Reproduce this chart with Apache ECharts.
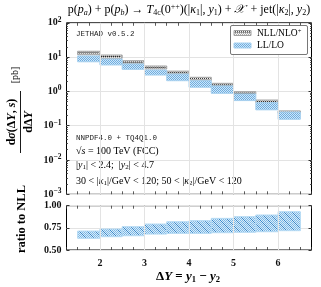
<!DOCTYPE html>
<html><head><meta charset="utf-8">
<script src="https://cdn.jsdelivr.net/npm/echarts@6/dist/echarts.min.js"></script>
<style>html,body{margin:0;padding:0;background:#fff}#c{width:321px;height:287px}</style>
</head><body><div id="c"></div>
<script>
// ---- data ----
const binLo = [1.5, 2.0, 2.5, 3.0, 3.5, 4.0, 4.5, 5.0, 5.5, 6.0];
const binHi = [2.0, 2.5, 3.0, 3.5, 4.0, 4.5, 5.0, 5.5, 6.0, 6.5];
const nllLo = [11.7, 9.2, 6.3, 4.5, 3.2, 2.05, 1.44, 0.84, 0.47, 0.23];
const nllHi = [14.8, 11.5, 7.85, 5.5, 3.9, 2.58, 1.72, 0.98, 0.56, 0.27];
const llLo  = [7.3, 5.9, 4.4, 3.0, 2.05, 1.32, 0.88, 0.54, 0.29, 0.154];
const llHi  = [10.8, 8.8, 6.3, 4.2, 3.2, 2.05, 1.44, 0.84, 0.47, 0.25];
const ratioLo = [0.632, 0.650, 0.661, 0.680, 0.688, 0.688, 0.695, 0.700, 0.706, 0.718];
const ratioHi = [0.714, 0.737, 0.763, 0.793, 0.819, 0.831, 0.857, 0.876, 0.895, 0.932];
const xTicks = [2, 3, 4, 5, 6];

// ---- patterns ----
function checker(bg, fg, n) {
  const c = document.createElement('canvas'); c.width = n; c.height = n;
  const g = c.getContext('2d'); g.fillStyle = bg; g.fillRect(0, 0, n, n);
  g.fillStyle = fg;
  for (let y = 0; y < n; y++) for (let x = 0; x < n; x++) if ((x + y) % 2 === 0) g.fillRect(x, y, 1, 1);
  return c;
}
function diag(bg, fg, stripe) {
  const n = 8;
  const c = checker(bg, fg, n);
  const g = c.getContext('2d'); g.fillStyle = stripe;
  for (let i = 0; i < n; i++) { g.fillRect(i, i, 1, 1); }
  return c;
}
const nllPat = { image: checker('#f4f4f4', '#ababab', 4), repeat: 'repeat' };
const llPat = { image: checker('#cfe7f8', '#6eacdf', 4), repeat: 'repeat' };
const ratioPat = { image: diag('#d6ecfa', '#7fb7e4', '#3f88c8'), repeat: 'repeat' };

function bandData(lo, hi) { return binLo.map((x, i) => [x, binHi[i], lo[i], hi[i]]); }

function renderBand(kind) {
  return function (params, api) {
    const a = api.coord([api.value(0), api.value(3)]);
    const b = api.coord([api.value(1), api.value(2)]);
    const x = a[0], y = a[1], w = b[0] - a[0], h = b[1] - a[1];
    const children = [];
    if (kind === 'nll') {
      children.push({ type: 'rect', shape: { x, y, width: w, height: h },
        style: { fill: nllPat, stroke: '#a0a0a0', lineWidth: 1 } });
      children.push({ type: 'line', shape: { x1: x + 1, y1: y + 1.5, x2: x + w - 1, y2: y + 1.5 },
        style: { stroke: '#111', lineWidth: 1, lineDash: [1, 1] } });
    } else if (kind === 'll') {
      children.push({ type: 'rect', shape: { x, y, width: w, height: h },
        style: { fill: llPat, stroke: '#a6d0ef', lineWidth: 1 } });
    } else {
      children.push({ type: 'rect', shape: { x, y, width: w, height: h },
        style: { fill: ratioPat, stroke: '#b4daf4', lineWidth: 1 } });
    }
    return { type: 'group', children };
  };
}

const SERIF = 'Liberation Serif';
const tickFont = { fontFamily: SERIF, fontSize: 10, fontWeight: 'bold', color: '#111' };

function xAxisCfg(gi, showLabel, pos) {
  return {
    type: 'value', gridIndex: gi, min: 1.25, max: 6.75, interval: 0.25, position: pos,
    axisLine: { show: false },
    axisTick: { show: true, inside: true, length: 3, lineStyle: { color: '#333', width: 0.8 } },
    axisLabel: { show: showLabel, ...tickFont, margin: 8,
      formatter: v => (Math.abs(v - Math.round(v)) < 1e-6 ? String(Math.round(v)) : '') },
    splitLine: { show: false }
  };
}

const chart = echarts.init(document.getElementById('c'), null, { renderer: 'canvas' });
const itS = { fontFamily: SERIF, fontSize: 12, fontStyle: 'italic' };
const subT = { fontFamily: SERIF, fontSize: 8, padding: [5, 0, 0, 0] };
const subTi = { fontFamily: SERIF, fontSize: 8, fontStyle: 'italic', padding: [5, 0, 0, 0] };
const supT = { fontFamily: SERIF, fontSize: 8, padding: [0, 0, 6, 0] };
const insetRich = { it: { fontFamily: SERIF, fontSize: 10, fontStyle: 'italic' }, s: { fontFamily: SERIF, fontSize: 7, padding: [4, 0, 0, 0] } };

chart.setOption({
  animation: false,
  grid: [
    { left: 66.5, top: 22.8, width: 245, height: 171.5, show: true, borderColor: '#000', borderWidth: 1, backgroundColor: 'transparent' },
    { left: 66.5, top: 205.7, width: 245, height: 44.3, show: true, borderColor: '#000', borderWidth: 1, backgroundColor: 'transparent' }
  ],
  xAxis: [
    xAxisCfg(0, false, 'bottom'), xAxisCfg(0, false, 'top'),
    xAxisCfg(1, true, 'bottom'), xAxisCfg(1, false, 'top')
  ],
  yAxis: [
    { type: 'log', gridIndex: 0, min: 0.001, max: 100, logBase: 10,
      axisLine: { show: false },
      axisTick: { inside: true, length: 3, lineStyle: { color: '#333' } },
      minorTick: { show: true, splitNumber: 9, length: 1.5, lineStyle: { color: '#555' } },
      splitLine: { show: true, lineStyle: { color: '#e3e3e3', width: 1 } },
      axisLabel: { ...tickFont, margin: 5,
        formatter: v => { const e = Math.round(Math.log10(v)); return '10{s|' + (e < 0 ? '−' + (-e) : e) + '}'; },
        rich: { s: { fontFamily: SERIF, fontSize: 7.5, fontWeight: 'bold', padding: [0, 0, 6, 0] } } } },
    { type: 'log', gridIndex: 0, min: 0.001, max: 100, logBase: 10, position: 'right',
      axisLine: { show: false }, axisLabel: { show: false }, splitLine: { show: false },
      axisTick: { inside: true, length: 3, lineStyle: { color: '#333' } },
      minorTick: { show: true, splitNumber: 9, length: 1.5, lineStyle: { color: '#555' } } },
    { type: 'value', gridIndex: 1, min: 0.5, max: 1.0, interval: 0.25,
      axisLine: { show: false },
      axisTick: { inside: true, length: 3, lineStyle: { color: '#333' } },
      splitLine: { show: true, lineStyle: { color: '#e3e3e3', width: 1 } },
      axisLabel: { ...tickFont, margin: 5, formatter: v => v.toFixed(2) } },
    { type: 'value', gridIndex: 1, min: 0.5, max: 1.0, interval: 0.25, position: 'right',
      axisLine: { show: false }, axisLabel: { show: false }, splitLine: { show: false },
      axisTick: { inside: true, length: 3, lineStyle: { color: '#333' } } }
  ],
  series: [
    { type: 'line', xAxisIndex: 0, yAxisIndex: 0, data: [], silent: true,
      markLine: { silent: true, symbol: 'none', label: { show: false },
        lineStyle: { color: '#e3e3e3', width: 1, type: 'solid' }, data: xTicks.map(v => ({ xAxis: v })) } },
    { type: 'line', xAxisIndex: 2, yAxisIndex: 2, data: [], silent: true,
      markLine: { silent: true, symbol: 'none', label: { show: false },
        lineStyle: { color: '#e3e3e3', width: 1, type: 'solid' }, data: xTicks.map(v => ({ xAxis: v })) } },
    { type: 'custom', name: 'NLL/NLO+', xAxisIndex: 0, yAxisIndex: 0, renderItem: renderBand('nll'),
      encode: { x: [0, 1], y: [2, 3] }, data: bandData(nllLo, nllHi), z: 3 },
    { type: 'custom', name: 'LL/LO', xAxisIndex: 0, yAxisIndex: 0, renderItem: renderBand('ll'),
      encode: { x: [0, 1], y: [2, 3] }, data: bandData(llLo, llHi), z: 4 },
    { type: 'custom', name: 'ratio', xAxisIndex: 2, yAxisIndex: 2, renderItem: renderBand('ratio'),
      encode: { x: [0, 1], y: [2, 3] }, data: bandData(ratioLo, ratioHi), z: 4 }
  ],
  graphic: [
    // title
    { type: 'text', x: 189, y: 10, style: {
      text: 'p({it|p}{si|a}) + p({it|p}{si|b}) → {it|T}{sn|4c}(0{sup|++})(|{it|κ}{sn|1}|, {it|y}{sn|1}) + {it|𝒳 } + jet(|{it|κ}{sn|2}|, {it|y}{sn|2})',
      font: '12px "Liberation Serif"', fill: '#000', align: 'center', verticalAlign: 'middle',
      rich: { it: itS, si: subTi, sn: subT, sup: supT } } },
    // JETHAD
    { type: 'text', x: 76, y: 30, style: { text: 'JETHAD v0.5.2', font: '7.5px "Liberation Mono"', fill: '#222' } },
    // legend
    { type: 'rect', shape: { x: 230.5, y: 25.5, width: 77, height: 29, r: 1.5 }, style: { fill: '#fff', stroke: '#555', lineWidth: 0.8 }, z: 10 },
    { type: 'rect', shape: { x: 234, y: 30.5, width: 17, height: 5 }, style: { fill: nllPat, stroke: '#a0a0a0', lineWidth: 1 }, z: 11 },
    { type: 'line', shape: { x1: 235, y1: 32, x2: 250, y2: 32 }, style: { stroke: '#111', lineWidth: 1, lineDash: [1, 1] }, z: 12 },
    { type: 'text', x: 257, y: 27.5, z: 11, style: { text: 'NLL/NLO{s|+}', font: '9.5px "Liberation Serif"', fill: '#000', rich: { s: { fontFamily: SERIF, fontSize: 6.5, padding: [0, 0, 5, 0] } } } },
    { type: 'rect', shape: { x: 234, y: 43, width: 17, height: 5 }, style: { fill: llPat, stroke: '#a6d0ef', lineWidth: 1 }, z: 11 },
    { type: 'text', x: 257, y: 40.5, z: 11, style: { text: 'LL/LO', font: '9.5px "Liberation Serif"', fill: '#000' } },
    // inset texts
    { type: 'text', x: 76, y: 134, style: { text: 'NNPDF4.0 + TQ4Q1.0', font: '7.5px "Liberation Mono"', fill: '#222' } },
    { type: 'text', x: 76, y: 146.5, style: { text: '√{it|s} = 100 TeV (FCC)', font: '10px "Liberation Serif"', fill: '#000', rich: insetRich } },
    { type: 'text', x: 76, y: 159.5, style: { text: '|{it|y}{s|1}| < 2.4;  |{it|y}{s|2}| < 4.7', font: '10px "Liberation Serif"', fill: '#000', rich: insetRich } },
    { type: 'text', x: 76, y: 175.5, style: { text: '30 < |{it|κ}{s|1}|/GeV < 120; 50 < |{it|κ}{s|2}|/GeV < 120', font: '10px "Liberation Serif"', fill: '#000', rich: insetRich } },
    // y label main (fraction)
    { type: 'group', x: 20.5, y: 122, rotation: Math.PI / 2, children: [
      { type: 'text', x: 0, y: -3, style: { text: 'd{it|σ}(Δ{it|Y}, {it|s})', font: 'bold 12px "Liberation Serif"', fill: '#000', align: 'center', verticalAlign: 'bottom',
        rich: { it: { fontFamily: SERIF, fontSize: 12, fontStyle: 'italic', fontWeight: 'bold' } } } },
      { type: 'line', shape: { x1: -31, y1: 0, x2: 31, y2: 0 }, style: { stroke: '#000', lineWidth: 0.9 } },
      { type: 'text', x: 0, y: 2, style: { text: 'dΔ{it|Y}', font: 'bold 12px "Liberation Serif"', fill: '#000', align: 'center', verticalAlign: 'top',
        rich: { it: { fontFamily: SERIF, fontSize: 12, fontStyle: 'italic', fontWeight: 'bold' } } } },
      { type: 'text', x: 47, y: -5, style: { text: '[pb]', font: '10px "Liberation Serif"', fill: '#000', align: 'center', verticalAlign: 'middle' } }
    ] },
    { type: 'text', x: 22, y: 219, rotation: Math.PI / 2, style: { text: 'ratio to NLL', font: 'bold 12.5px "Liberation Serif"', fill: '#000', align: 'center', verticalAlign: 'middle' } },
    // x label
    { type: 'text', x: 188, y: 277, style: { text: 'Δ{it|Y} = {it|y}{s|1} − {it|y}{s|2}', font: 'bold 13px "Liberation Serif"', fill: '#000', align: 'center', verticalAlign: 'middle',
      rich: { it: { fontFamily: SERIF, fontSize: 13, fontStyle: 'italic', fontWeight: 'bold' }, s: { fontFamily: SERIF, fontSize: 8.5, fontWeight: 'bold', padding: [5, 0, 0, 0] } } } }
  ]
});
</script></body></html>
